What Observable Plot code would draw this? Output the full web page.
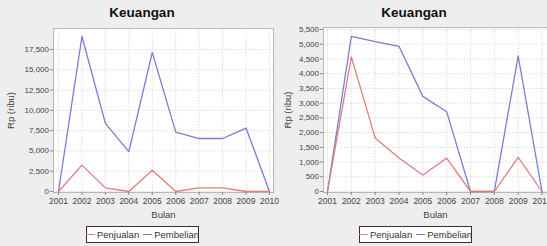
<!DOCTYPE html>
<html>
<head>
<meta charset="utf-8">
<script src="https://cdn.jsdelivr.net/npm/d3@7"></script>
<script src="https://cdn.jsdelivr.net/npm/@observablehq/plot@0.6"></script>
<style>
  html, body { margin: 0; padding: 0; background: #eeeeee; }
  #wrap { position: relative; width: 547px; height: 246px; overflow: hidden; background: #eeeeee; font-family: "Liberation Sans", Arial, sans-serif; }
  .panel { position: absolute; top: 0; }
  .title { position: absolute; top: 5px; font-weight: bold; font-size: 13.5px; color: #111; white-space: nowrap; transform: translateX(-50%); }
  .legend { position: absolute; top: 226px; height: 17px; border: 1px solid #333; background: #fff; display: flex; align-items: center; justify-content: center; padding: 0 2px; font-size: 9.5px; color: #333; white-space: nowrap; box-sizing: border-box; }
  .legend .sw { display: inline-block; width: 9px; height: 0; border-top: 1.3px solid; margin-right: 2px; }
  .legend .item { display: flex; align-items: center; margin-right: 4px; }
  .legend .item:last-child { margin-right: 0; }
  svg text { font-family: "Liberation Sans", Arial, sans-serif; }
</style>
</head>
<body>
<div id="wrap"></div>
<script>
// ---- data ----
const years = [2001, 2002, 2003, 2004, 2005, 2006, 2007, 2008, 2009, 2010];
const seriesNames = ["Penjualan", "Pembelian"];
const seriesColors = ["#e27d7d", "#7b7bd4"];
const chartTitle = "Keuangan";
const xLabel = "Bulan";
const yLabel = "Rp (ribu)";

// left chart
const leftPenjualan = [0, 3250, 450, 0, 2630, 0, 450, 450, 0, 0];
const leftPembelian = [0, 19100, 8400, 4920, 17150, 7320, 6530, 6530, 7820, 0];
const leftYTicks = [0, 2500, 5000, 7500, 10000, 12500, 15000, 17500];

// right chart
const rightPenjualan = [0, 4570, 1820, 1140, 560, 1130, 0, 0, 1160, 0];
const rightPembelian = [0, 5270, 5090, 4930, 3230, 2710, 0, 0, 4600, 0];
const rightYTicks = [0, 500, 1000, 1500, 2000, 2500, 3000, 3500, 4000, 4500, 5000, 5500];

// Pembelian drawn first so that Penjualan sits on top where both are zero
function rows(pen, pem) {
  const out = [];
  years.forEach((y, i) => out.push({year: y, value: pem[i], series: seriesNames[1]}));
  years.forEach((y, i) => out.push({year: y, value: pen[i], series: seriesNames[0]}));
  return out;
}

function makeChart(cfg) {
  const data = rows(cfg.pen, cfg.pem);
  const fmt = d3.format(",");
  return Plot.plot({
    width: cfg.width,
    height: 246,
    marginLeft: cfg.ml,
    marginRight: cfg.mr,
    marginTop: cfg.mt,
    marginBottom: 54,
    style: {background: "transparent", color: "#444", fontSize: "8px", overflow: "visible"},
    x: {type: "linear", domain: [2001, 2010], range: cfg.xRange, axis: null, label: null},
    y: {domain: [0, cfg.yTicks[cfg.yTicks.length - 1]], range: cfg.yRange, axis: null, label: null},
    color: {domain: seriesNames, range: seriesColors},
    marks: [
      Plot.frame({fill: "white", stroke: "none"}),
      Plot.gridX(years, {stroke: "#dcdcdc", strokeOpacity: 1, strokeDasharray: "1.5,1.5"}),
      Plot.gridY(cfg.yTicks, {stroke: "#dcdcdc", strokeOpacity: 1, strokeDasharray: "1.5,1.5"}),
      Plot.frame({stroke: "#b8b8b8"}),
      Plot.line(data, {x: "year", y: "value", z: "series", stroke: "series", strokeWidth: 1.3}),
      Plot.axisX(years, {tickFormat: d => String(d), tickSize: 3, tickPadding: 2, fontSize: 8.5,
        stroke: "#888", fill: "#444", label: null}),
      Plot.axisX({label: xLabel, labelAnchor: "center", labelArrow: "none", labelOffset: 25,
        ticks: [], tickSize: 0, fontSize: 9.5, fill: "#444"}),
      Plot.axisY(cfg.yTicks, {tickFormat: fmt, tickSize: 3, tickPadding: 1.5, fontSize: 8,
        stroke: "#888", fill: "#444", label: null}),
      Plot.axisY({label: yLabel, labelAnchor: "center", labelArrow: "none", labelOffset: cfg.ylo,
        ticks: [], tickSize: 0, fontSize: 9.5, fill: "#444"})
    ]
  });
}

const wrap = document.getElementById("wrap");

function addPanel(cfg) {
  const panel = document.createElement("div");
  panel.className = "panel";
  panel.style.left = cfg.left + "px";
  panel.style.width = cfg.width + "px";
  panel.style.height = "246px";
  const svg = makeChart(cfg);
  svg.style.position = "absolute";
  svg.style.left = "0px";
  svg.style.top = "0px";
  panel.appendChild(svg);
  wrap.appendChild(panel);

  const t = document.createElement("div");
  t.className = "title";
  t.textContent = chartTitle;
  t.style.left = cfg.titleX + "px";
  wrap.appendChild(t);

  const lg = document.createElement("div");
  lg.className = "legend";
  lg.style.left = cfg.legendX + "px";
  lg.style.width = "113px";
  seriesNames.forEach((n, i) => {
    const it = document.createElement("span");
    it.className = "item";
    const sw = document.createElement("span");
    sw.className = "sw";
    sw.style.borderColor = seriesColors[i];
    it.appendChild(sw);
    const tx = document.createElement("span");
    tx.textContent = n;
    it.appendChild(tx);
    lg.appendChild(it);
  });
  wrap.appendChild(lg);
}

addPanel({left: 0, width: 275, ml: 53, mr: 2, mt: 28, xRange: [58, 269], yRange: [191, 49],
  yTicks: leftYTicks, pen: leftPenjualan, pem: leftPembelian, ylo: 46, titleX: 142, legendX: 86});
addPanel({left: 275, width: 272, ml: 48, mr: 0, mt: 27, xRange: [52, 266.5], yRange: [191, 29],
  yTicks: rightYTicks, pen: rightPenjualan, pem: rightPembelian, ylo: 39, titleX: 414, legendX: 359});
</script>
</body>
</html>
